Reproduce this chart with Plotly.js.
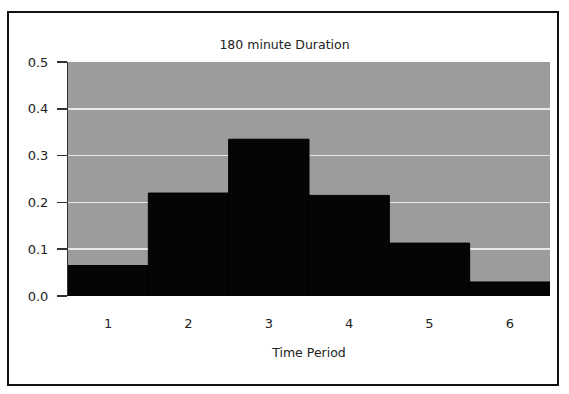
<!DOCTYPE html>
<html>
<head>
<meta charset="utf-8">
<script src="https://cdn.plot.ly/plotly-3.0.1.min.js"></script>
<style>
html,body{margin:0;padding:0;background:#fff;}
#chart{width:569px;height:394px;}
</style>
</head>
<body>
<div id="chart"></div>
<script>
const categories = ["1", "2", "3", "4", "5", "6"];
const values = [0.065, 0.22, 0.335, 0.215, 0.113, 0.03];
const yTicks = [0, 0.1, 0.2, 0.3, 0.4, 0.5];
const yTickLabels = ["0.0", "0.1", "0.2", "0.3", "0.4", "0.5"];

const font = {family: "DejaVu Sans, Verdana, sans-serif", size: 13, color: "#222"};

const trace = {
  type: "bar",
  x: categories,
  y: values,
  marker: {color: "#050505", line: {color: "#000", width: 1}},
  hoverinfo: "x+y"
};

const mL = 68, mR = 19, mT = 62, mB = 98;
const pw = 569 - mL - mR, ph = 394 - mT - mB;
function px(x){ return (x - mL) / pw; }
function py(y){ return 1 - (y - mT) / ph; }

const layout = {
  width: 569, height: 394,
  margin: {l: mL, r: mR, t: mT, b: mB, pad: 0},
  paper_bgcolor: "#ffffff",
  plot_bgcolor: "#9c9c9c",
  bargap: 0,
  showlegend: false,
  font: font,
  title: {text: "180 minute Duration", font: {family: font.family, size: 12.5, color: "#222"}, x: 0.5, xanchor: "center", y: 0.888, yanchor: "middle"},
  xaxis: {
    type: "category",
    title: {text: "Time Period", font: {family: font.family, size: 12.5, color: "#222"}, standoff: 18},
    showgrid: false,
    ticks: "",
    tickfont: font,
    ticklabelstandoff: 18,
    showline: false,
    zeroline: false
  },
  yaxis: {
    range: [0, 0.5],
    tickvals: yTicks,
    ticktext: yTickLabels,
    tickfont: font,
    ticks: "outside",
    ticklen: 10,
    tickcolor: "#333",
    tickwidth: 1.5,
    ticklabelstandoff: 6,
    showgrid: true,
    gridcolor: "#e8e8e8",
    gridwidth: 1.5,
    showline: true,
    linecolor: "#333",
    linewidth: 1,
    zeroline: false
  },
  shapes: [{
    type: "rect", xref: "paper", yref: "paper",
    x0: px(8), x1: px(558), y0: py(385), y1: py(12),
    line: {color: "#111", width: 2}, fillcolor: "rgba(0,0,0,0)", layer: "below"
  }]
};

Plotly.newPlot("chart", [trace], layout, {displayModeBar: false, staticPlot: true});
</script>
</body>
</html>
